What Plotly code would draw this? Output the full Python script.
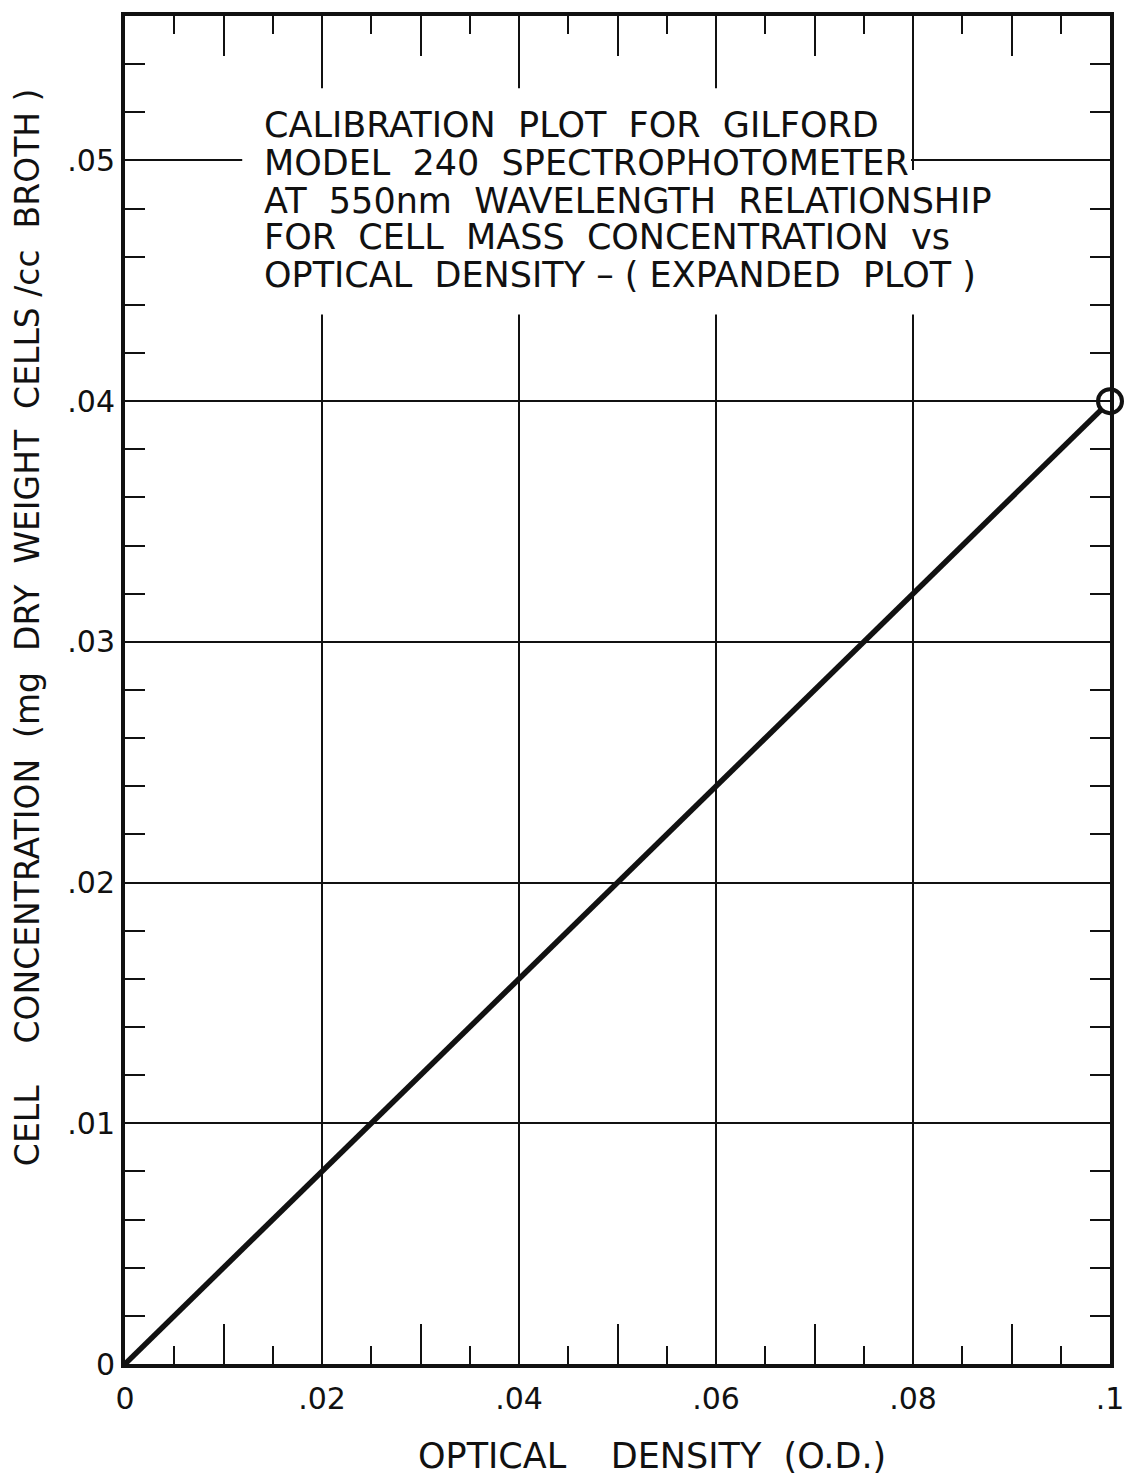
import numpy as np
import plotly.graph_objects as go

# Calibration line: optical density vs cell concentration
od = [0.0, 0.1]
conc = [0.0, 0.04]

x_tick_vals = [0, 0.02, 0.04, 0.06, 0.08, 0.1]
x_tick_text = ["0", ".02", ".04", ".06", ".08", ".1"]
y_tick_vals = [0, 0.01, 0.02, 0.03, 0.04, 0.05]
y_tick_text = ["0", ".01", ".02", ".03", ".04", ".05"]

box_lines = [
    "CALIBRATION  PLOT  FOR  GILFORD",
    "MODEL  240  SPECTROPHOTOMETER",
    "AT  550nm  WAVELENGTH  RELATIONSHIP",
    "FOR  CELL  MASS  CONCENTRATION  vs",
    "OPTICAL  DENSITY \u2013 ( EXPANDED  PLOT )",
]
x_title = "OPTICAL    DENSITY  (O.D.)"
y_title = "CELL    CONCENTRATION  (mg  DRY  WEIGHT  CELLS /cc  BROTH )"

FONT = "DejaVu Sans"
INK = "#111111"

X_RANGE = [0, 0.1]
Y_RANGE = [0, 0.056]


def nb(s):
    return s.replace(" ", "\u00a0")


fig = go.Figure()

fig.add_trace(go.Scatter(
    x=od, y=conc, mode="lines",
    line=dict(color=INK, width=5.5),
    showlegend=False, hoverinfo="skip",
))
# calibration end point, drawn on the secondary x axis (same scale)
fig.add_trace(go.Scatter(
    x=od[-1:], y=conc[-1:], mode="markers", xaxis="x2", yaxis="y",
    marker=dict(symbol="circle", size=24, color="white",
                line=dict(color=INK, width=4)),
    cliponaxis=False, showlegend=False, hoverinfo="skip",
))

# white panels behind the caption block, interrupting the grid
for x0, x1, y0, y1 in [(0.0119, 0.0798, 0.0436, 0.0530),
                       (0.0798, 0.0900, 0.0436, 0.0496)]:
    fig.add_shape(type="rect", xref="x", yref="y", x0=x0, x1=x1, y0=y0, y1=y1,
                  fillcolor="white", line=dict(width=0), layer="between")

# caption, one annotation per line for tight line spacing
line_y = [0.05148, 0.04991, 0.04833, 0.04680, 0.04522]
for txt, yy in zip(box_lines, line_y):
    fig.add_annotation(
        x=0.0139, y=yy, xref="x", yref="y",
        xanchor="left", yanchor="middle", align="left", showarrow=False,
        text=nb(txt), font=dict(family=FONT, size=35, color=INK),
    )

fig.add_annotation(
    x=0.535, y=-0.068, xref="paper", yref="paper",
    xanchor="center", yanchor="middle", showarrow=False,
    text=nb(x_title), font=dict(family=FONT, size=35, color=INK),
)
fig.add_annotation(
    x=-0.099, y=0.547, xref="paper", yref="paper",
    xanchor="center", yanchor="middle", showarrow=False, textangle=-90,
    text=nb(y_title), font=dict(family=FONT, size=33, color=INK),
)

axis_common = dict(showline=True, linecolor=INK, linewidth=4, mirror="allticks",
                   zeroline=False, gridcolor=INK, gridwidth=2,
                   tickfont=dict(family=FONT, size=30, color=INK))

fig.update_layout(
    width=1136, height=1484,
    margin=dict(l=125, r=26, t=13, b=120),
    paper_bgcolor="white", plot_bgcolor="white",
    xaxis=dict(range=X_RANGE, tickmode="array", tickvals=x_tick_vals,
               ticktext=x_tick_text, showgrid=True, ticks="inside",
               ticklen=0, tickcolor=INK, ticklabelstandoff=5,
               minor=dict(tickmode="array",
                          tickvals=list(np.round(np.arange(0.005, 0.1, 0.01), 4)),
                          ticks="inside", ticklen=18, tickwidth=2,
                          tickcolor=INK, showgrid=False),
               **axis_common),
    xaxis2=dict(range=X_RANGE, overlaying="x", anchor="y", side="bottom",
                tickmode="array",
                tickvals=list(np.round(np.arange(0.01, 0.1, 0.02), 4)),
                showticklabels=False, ticks="inside", ticklen=40, tickwidth=2,
                tickcolor=INK, showgrid=False, showline=False, mirror="allticks",
                zeroline=False),
    yaxis=dict(range=Y_RANGE, tickmode="array", tickvals=y_tick_vals,
               ticktext=y_tick_text, showgrid=True, ticks="inside",
               ticklen=0, tickcolor=INK, ticklabelstandoff=0,
               minor=dict(tickmode="array",
                          tickvals=list(np.round(np.arange(0.002, 0.056, 0.002), 4)),
                          ticks="inside", ticklen=20, tickwidth=2,
                          tickcolor=INK, showgrid=False),
               **axis_common),
)

fig.write_html("out.html")
